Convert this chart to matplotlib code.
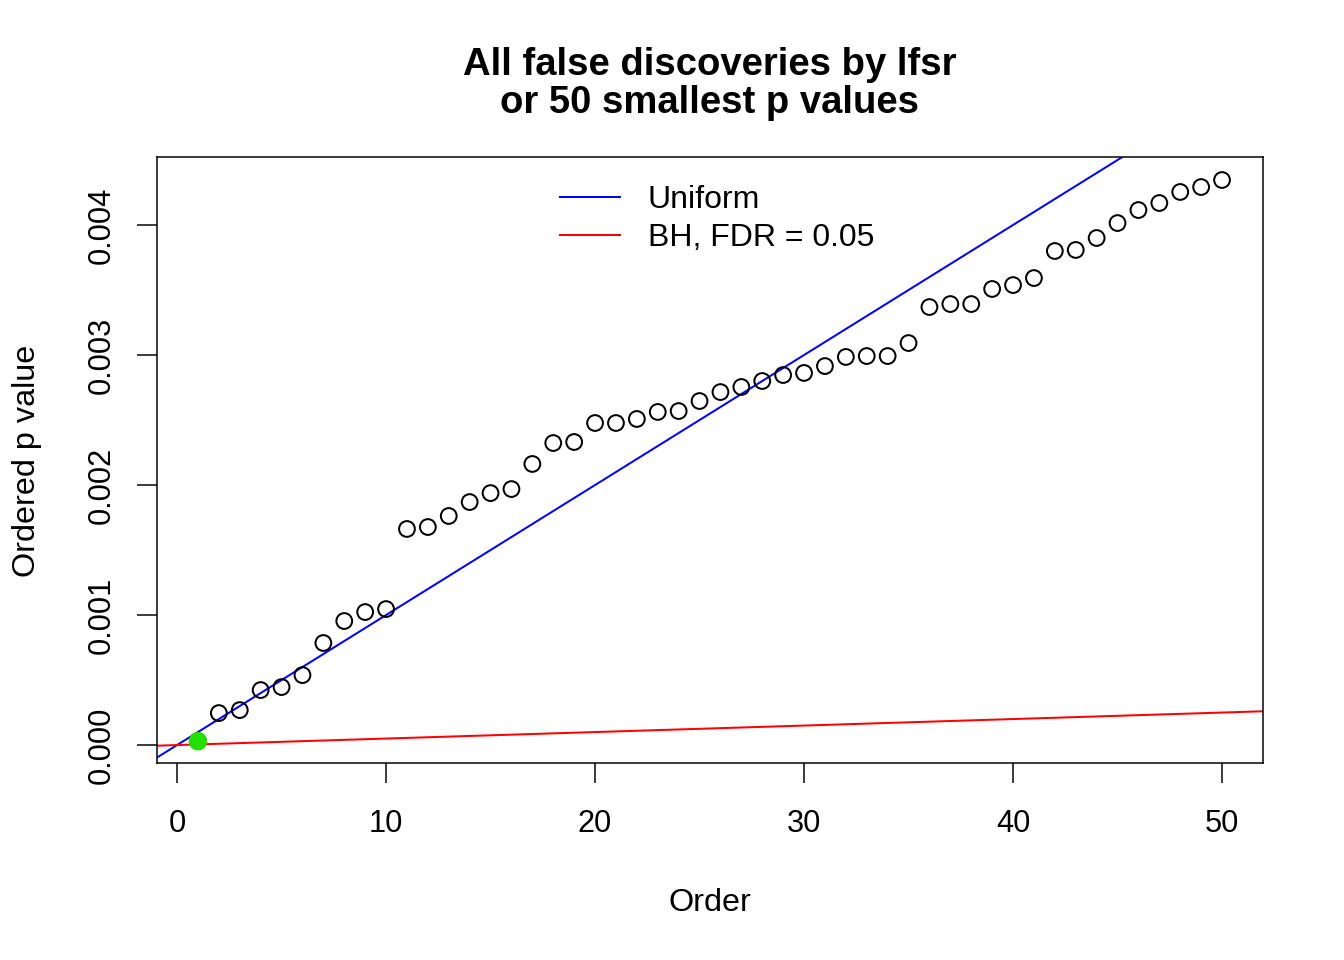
import numpy as np
import matplotlib
matplotlib.use('Agg')
import matplotlib.pyplot as plt
from matplotlib.lines import Line2D

plt.rcParams['font.family'] = ['Liberation Sans', 'DejaVu Sans']

# Ordered p values (50 smallest)
order = np.arange(1, 51)
pvals = [0.000030, 0.000246, 0.000269, 0.000423, 0.000446, 0.000538, 0.000785,
         0.000954, 0.001023, 0.001046, 0.001662, 0.001677, 0.001762, 0.001869,
         0.001938, 0.001969, 0.002162, 0.002323, 0.002331, 0.002477, 0.002477,
         0.002508, 0.002562, 0.002569, 0.002646, 0.002715, 0.002754, 0.002800,
         0.002846, 0.002862, 0.002915, 0.002985, 0.002992, 0.002992, 0.003092,
         0.003369, 0.003392, 0.003392, 0.003508, 0.003538, 0.003592, 0.003800,
         0.003808, 0.003900, 0.004015, 0.004115, 0.004169, 0.004254, 0.004292,
         0.004346]
n_tests = 10000
fdr = 0.05
n_lfsr = 1  # false discoveries by lfsr (highlighted)

xticks = [0, 10, 20, 30, 40, 50]
yticks = [0.000, 0.001, 0.002, 0.003, 0.004]
ytick_labels = ['0.000', '0.001', '0.002', '0.003', '0.004']

fig = plt.figure(figsize=(1344 / 144, 960 / 144), dpi=144)
ax = fig.add_axes([157 / 1344, 1 - 763 / 960, (1263 - 157) / 1344, (763 - 157) / 960])

xlim = (-0.96, 51.96)
ax.set_xlim(xlim)
ax.set_ylim(-0.000138, 0.004523)

xx = np.array(xlim)
ax.plot(xx, xx / n_tests, color='blue', lw=1.0, label='Uniform')
ax.plot(xx, xx * fdr / n_tests, color='red', lw=1.0, label='BH, FDR = 0.05')

ax.scatter(order, pvals, s=62, facecolors='none', edgecolors='black', linewidths=1.0, zorder=3)
ax.scatter(order[:n_lfsr], pvals[:n_lfsr], s=85, color='#22e000', edgecolors='none', zorder=4)

ax.set_xticks(xticks)
ax.set_xticklabels([str(t) for t in xticks])
ax.set_yticks(yticks)
ax.set_yticklabels(ytick_labels, rotation=90, va='center')
ax.tick_params(direction='out', length=10, width=0.75, labelsize=15.4, pad=13)
ax.tick_params(axis='y', pad=10)
for s in ax.spines.values():
    s.set_linewidth(0.75)

fig.text(710 / 1344, 1 - 903 / 960, 'Order', ha='center', va='center', fontsize=16.2)
fig.text(27 / 1344, 1 - 461 / 960, 'Ordered p value', ha='center', va='center',
         rotation=90, fontsize=16.2)
fig.text(710 / 1344, 1 - 65 / 960, 'All false discoveries by lfsr', ha='center',
         va='center', fontsize=19.1, fontweight='bold')
fig.text(710 / 1344, 1 - 103 / 960, 'or 50 smallest p values', ha='center',
         va='center', fontsize=19.1, fontweight='bold')

handles = [Line2D([], [], color='blue', lw=1.0), Line2D([], [], color='red', lw=1.0)]
fig.legend(handles, ['Uniform', 'BH, FDR = 0.05'], loc='upper left',
           bbox_to_anchor=(560 / 1344, 1 - 185 / 960), frameon=False, fontsize=16,
           handlelength=1.875, handletextpad=0.875, labelspacing=0.25,
           borderpad=0, borderaxespad=0)

fig.savefig('out.png', dpi=144)
